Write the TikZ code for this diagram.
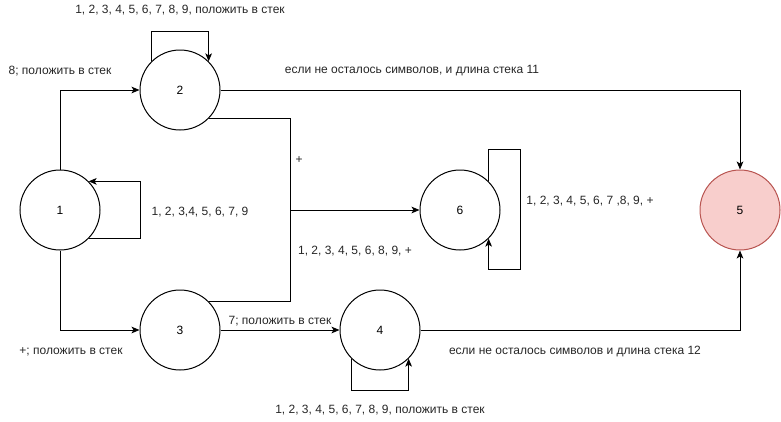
\documentclass[tikz,border=0pt]{standalone}
\usepackage{fontspec}
\setmainfont{Liberation Sans}
\usetikzlibrary{arrows.meta}
\definecolor{redfill}{HTML}{F8CECC}
\definecolor{redline}{HTML}{B85450}
\tikzset{
  st/.style={circle, draw=black, line width=0.75pt, minimum size=60pt, inner sep=0pt, font=\fontsize{9pt}{11pt}\selectfont},
  arr/.style={line width=0.75pt, -{Stealth[length=6pt,width=5pt,inset=1.5pt]}},
  ln/.style={line width=0.75pt},
  lbl/.style={inner sep=0pt, font=\fontsize{9pt}{11pt}\selectfont, text=black!85}
}
\begin{document}
\begin{tikzpicture}[x=0.75pt,y=-0.75pt]
\useasboundingbox (0,0) rectangle (781,421);
\node[st] (n1) at (60,210) {1};
\node[st] (n2) at (180,90) {2};
\node[st] (n3) at (180,330) {3};
\node[st] (n4) at (380,330) {4};
\node[st] (n6) at (460,210) {6};
\node[st, fill=redfill, draw=redline] (n5) at (740,210) {5};
\coordinate (j) at (290,210);

% edges
\draw[arr] (n1.north) |- (n2.west);
\draw[arr] (n1.south) |- (n3.west);
\draw[arr] (n1.-45) -- ++(52,0) |- (n1.45);
\draw[arr] (n2.135) -- ++(0,-30) -| (n2.45);
\draw[arr] (n2.east) -| (n5.north);
\draw[arr] (n2.-45) -| (j) -- (n6.west);
\draw[ln] (n3.45) -| (j);
\draw[arr] (n3.east) -- (n4.west);
\draw[arr] (n4.-135) -- ++(0,32) -| (n4.-45);
\draw[arr] (n4.east) -| (n5.south);
\draw[arr] (n6.45) -- ++(0,-32) -- ++(32,0) -- ++(0,120) -- ++(-32,0) -- (n6.-45);

% labels
\node[lbl] (l1) at (180,10) {1, 2, 3, 4, 5, 6, 7, 8, 9, положить в стек};
\node[lbl] (l2) at (60,71) {8; положить в стек};
\node[lbl] (l3) at (412,71) {если не осталось символов, и длина стека 11};
\node[lbl] (l4) at (200,212) {1, 2, 3,4, 5, 6, 7, 9};
\node[lbl] (l5) at (299,160) {+};
\node[lbl] (l6) at (355,251) {1, 2, 3, 4, 5, 6, 8, 9, +};
\node[lbl] (l7) at (590,201) {1, 2, 3, 4, 5, 6, 7 ,8, 9, +};
\node[lbl] (l8) at (280,321) {7; положить в стек};
\node[lbl] (l9) at (71,352) {+; положить в стек};
\node[lbl] (l10) at (575,352) {если не осталось символов и длина стека 12};
\node[lbl] (l11) at (380,410) {1, 2, 3, 4, 5, 6, 7, 8, 9, положить в стек};
\end{tikzpicture}
\end{document}
